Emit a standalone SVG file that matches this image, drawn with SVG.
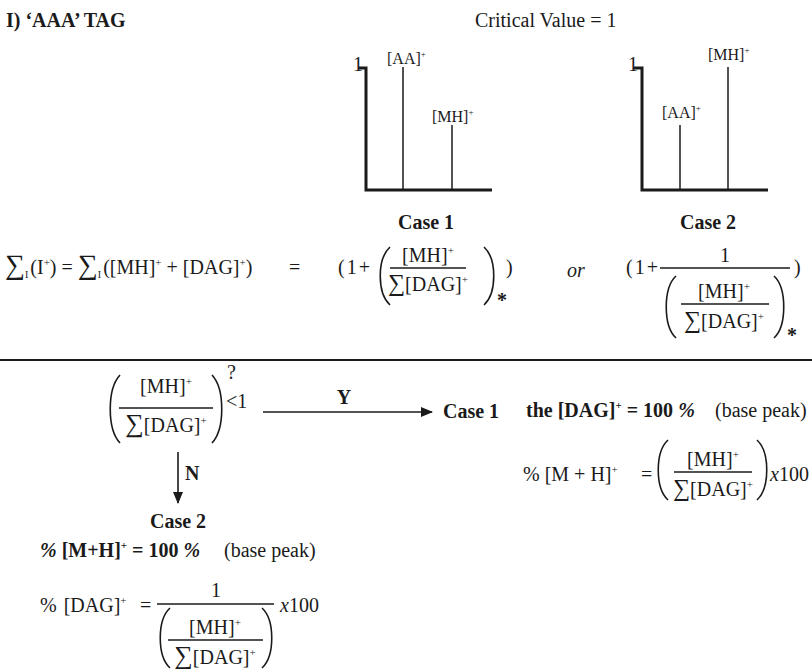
<svg xmlns="http://www.w3.org/2000/svg" width="812" height="669" viewBox="0 0 812 669">
<defs>
<style>
.t{font-family:"Liberation Serif","Times New Roman",serif;font-size:20px;fill:#1a1a1a}
.lb{font-family:"Liberation Serif","Times New Roman",serif;font-size:16px;fill:#1a1a1a}
.b{font-weight:bold}
.i{font-style:italic}
.ax{stroke:#1a1a1a;stroke-width:3;fill:none}
.pk{stroke:#1a1a1a;stroke-width:1.5}
.ln{stroke:#1a1a1a;stroke-width:1.3}
.dl{stroke:#1a1a1a;stroke-width:1.6;fill:none}
.ar{stroke:#1a1a1a;stroke-width:1.6;fill:none}
</style>
<marker id="ah" viewBox="0 0 12 10" refX="11" refY="5" markerWidth="12" markerHeight="10" markerUnits="userSpaceOnUse" orient="auto">
<path d="M0,0 L12,5 L0,10 z" fill="#1a1a1a"/>
</marker>
</defs>
<rect width="812" height="669" fill="#ffffff"/>

<g id="title">
<text class="t b" x="6" y="27" font-size="20.5">I) ‘AAA’ TAG</text>
<text class="t" x="475" y="27" font-size="20.5">Critical Value = 1</text>
</g>

<g id="spectrum1">
<path class="ax" d="M359,68 H366 V190 H492"/>
<text class="t" x="353" y="71" font-size="6">1</text>
<line class="pk" x1="403" y1="67" x2="403" y2="190"/>
<line class="pk" x1="452" y1="125" x2="452" y2="190"/>
<text class="lb" x="387" y="64">[AA]<tspan font-size="9" dy="-7">+</tspan></text>
<text class="lb" x="432" y="122">[MH]<tspan font-size="9" dy="-7">+</tspan></text>
<text class="t b" x="426" y="229" text-anchor="middle">Case 1</text>
</g>

<g id="spectrum2">
<path class="ax" d="M634,68 H642 V190 H768"/>
<text class="t" x="628" y="71" font-size="6">1</text>
<line class="pk" x1="680" y1="125" x2="680" y2="190"/>
<line class="pk" x1="728" y1="67" x2="728" y2="190"/>
<text class="lb" x="708" y="60">[MH]<tspan font-size="9" dy="-7">+</tspan></text>
<text class="lb" x="662" y="118">[AA]<tspan font-size="9" dy="-7">+</tspan></text>
<text class="t b" x="708" y="229" text-anchor="middle">Case 2</text>
</g>

<g id="sum-equation">
<text class="t" x="5" y="274" font-size="22"><tspan font-size="28">∑</tspan><tspan font-size="10" dy="4">I</tspan><tspan dy="-4" dx="2">(I</tspan><tspan font-size="11" dy="-8">+</tspan><tspan dy="8">) = </tspan><tspan font-size="28">∑</tspan><tspan font-size="10" dy="4">I</tspan><tspan dy="-4" dx="2">([MH]</tspan><tspan font-size="11" dy="-8">+</tspan><tspan dy="8"> + [DAG]</tspan><tspan font-size="11" dy="-8">+</tspan><tspan dy="8">)</tspan></text>
<text class="t" x="289" y="274" font-size="22">=</text>
<text class="t" x="338" y="274" letter-spacing="2">(1+</text>
<path class="dl" d="M390,247 C377,259 377,293 390,305"/>
<text class="t" x="428" y="262" text-anchor="middle">[MH]<tspan font-size="11" dy="-8">+</tspan></text>
<line class="ln" x1="390" y1="268" x2="466" y2="268"/>
<text class="t" x="428" y="291" text-anchor="middle"><tspan font-size="24">∑</tspan>[DAG]<tspan font-size="11" dy="-8">+</tspan></text>
<path class="dl" d="M484,247 C497,259 497,293 484,305"/>
<text class="t b" x="497" y="307" font-size="12">*</text>
<text class="t" x="506" y="274">)</text>
<text class="t i" x="567" y="277">or</text>
<text class="t" x="626" y="274" letter-spacing="2">(1+</text>
<text class="t" x="725" y="262" text-anchor="middle">1</text>
<line class="ln" x1="660" y1="268" x2="790" y2="268"/>
<path class="dl" d="M676,276 C663,288 663,326 676,338"/>
<text class="t" x="724" y="298" text-anchor="middle">[MH]<tspan font-size="11" dy="-8">+</tspan></text>
<line class="ln" x1="681" y1="304" x2="769" y2="304"/>
<text class="t" x="724" y="328" text-anchor="middle"><tspan font-size="24">∑</tspan>[DAG]<tspan font-size="11" dy="-8">+</tspan></text>
<path class="dl" d="M774,276 C787,288 787,326 774,338"/>
<text class="t b" x="787" y="342" font-size="12">*</text>
<text class="t" x="794" y="274">)</text>
</g>

<line x1="0" y1="360" x2="812" y2="360" stroke="#1a1a1a" stroke-width="2"/>

<g id="decision">
<path class="dl" d="M120,375 C107,389 107,429 120,443"/>
<text class="t" x="166" y="393" text-anchor="middle">[MH]<tspan font-size="11" dy="-8">+</tspan></text>
<line class="ln" x1="119" y1="408" x2="213" y2="408"/>
<text class="t" x="166" y="432" text-anchor="middle"><tspan font-size="26">∑</tspan>[DAG]<tspan font-size="11" dy="-8">+</tspan></text>
<path class="dl" d="M212,375 C225,389 225,429 212,443"/>
<text class="t" x="227" y="379">?</text>
<text class="t" x="226" y="408">&lt;1</text>
</g>

<g id="case1-result">
<text class="t b" x="443" y="418" font-size="21">Case 1</text>
<text class="t b" x="526" y="417" font-size="21">the [DAG]<tspan font-size="11" dy="-8">+</tspan><tspan dy="8"> = 100 </tspan><tspan class="i">%</tspan></text>
<text class="t" x="715" y="417">(base peak)</text>
<text class="t" x="523" y="481" font-size="21">% [M + H]<tspan font-size="11" dy="-8">+</tspan></text>
<text class="t" x="641" y="481">=</text>
<path class="dl" d="M668,440 C655,452 655,488 668,500"/>
<text class="t" x="713" y="466" text-anchor="middle">[MH]<tspan font-size="11" dy="-8">+</tspan></text>
<line class="ln" x1="674" y1="472" x2="752" y2="472"/>
<text class="t" x="713" y="496" text-anchor="middle"><tspan font-size="24">∑</tspan>[DAG]<tspan font-size="11" dy="-8">+</tspan></text>
<path class="dl" d="M757,440 C770,452 770,488 757,500"/>
<text class="t" x="770" y="481" font-size="19.5"><tspan class="i">x</tspan>100</text>
</g>

<g id="case2-result">
<text class="t b" x="150" y="528" font-size="21">Case 2</text>
<text class="t b" x="40" y="557" font-size="21"><tspan class="i">%</tspan> [M+H]<tspan font-size="11" dy="-8">+</tspan><tspan dy="8"> = 100 </tspan><tspan class="i">%</tspan></text>
<text class="t" x="224" y="557">(base peak)</text>
<text class="t" x="40" y="612" word-spacing="2">% [DAG]<tspan font-size="11" dy="-8">+</tspan></text>
<text class="t" x="140" y="612">=</text>
<text class="t" x="216" y="597" text-anchor="middle">1</text>
<line class="ln" x1="157" y1="604" x2="274" y2="604"/>
<path class="dl" d="M170,608 C157,620 157,656 170,668"/>
<text class="t" x="215" y="634" text-anchor="middle">[MH]<tspan font-size="11" dy="-8">+</tspan></text>
<line class="ln" x1="168" y1="640" x2="263" y2="640"/>
<text class="t" x="215" y="664" text-anchor="middle"><tspan font-size="26">∑</tspan>[DAG]<tspan font-size="11" dy="-8">+</tspan></text>
<path class="dl" d="M262,608 C275,620 275,656 262,668"/>
<text class="t" x="280" y="612"><tspan class="i">x</tspan>100</text>
</g>

<g id="connectors">
<line class="ar" x1="263" y1="412" x2="432" y2="412" marker-end="url(#ah)"/>
<text class="t b" x="344" y="404" text-anchor="middle">Y</text>
<line class="ar" x1="178" y1="452" x2="178" y2="503" marker-end="url(#ah)"/>
<text class="t b" x="185" y="480">N</text>
</g>
</svg>
